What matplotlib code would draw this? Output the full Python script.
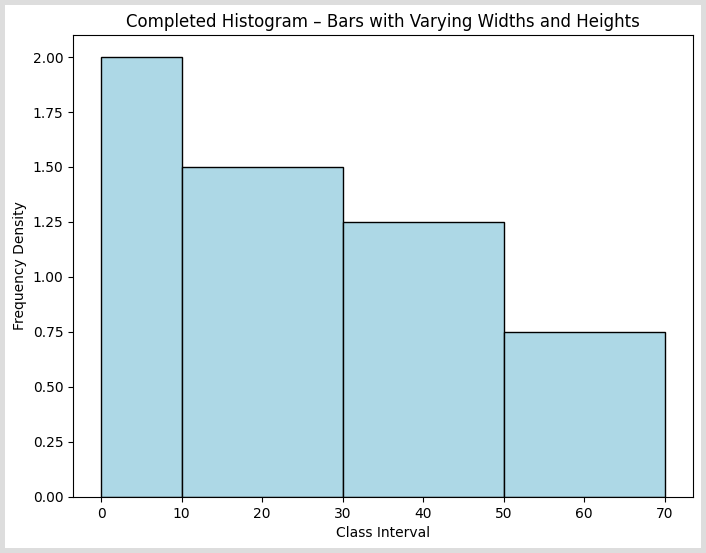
# histogram with unequal class widths

import matplotlib.pyplot as plt

edges = [0, 10, 30, 50, 70]
density = [2.0, 1.5, 1.25, 0.75]

widths = [edges[i + 1] - edges[i] for i in range(len(density))]

fig = plt.figure(figsize=(7.06, 5.53), dpi=100)
fig.patch.set_edgecolor('#dddddd')
fig.patch.set_linewidth(7)

ax = fig.add_axes([0.1034, 0.1013, 0.8782, 0.8354])
ax.bar(edges[:-1], density, width=widths, align='edge',
       color='lightblue', edgecolor='black')

ax.set_ylim(0, 2.1)
ax.set_title("Completed Histogram \u2013 Bars with Varying Widths and Heights")
ax.set_xlabel("Class Interval")
ax.set_ylabel("Frequency Density")

fig.savefig("out.png", dpi=100, edgecolor=fig.get_edgecolor())
